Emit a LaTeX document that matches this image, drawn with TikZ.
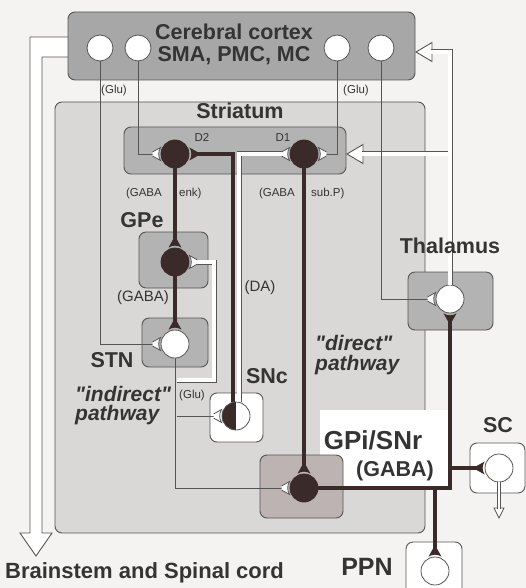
\documentclass[tikz,border=0pt]{standalone}
\usepackage{fontspec}
\setmainfont{Liberation Sans}
\usepackage{xcolor}
\usetikzlibrary{positioning}

\definecolor{paper}{HTML}{F4F3F1}
\definecolor{bggray}{HTML}{D9D8D6}
\definecolor{ctxgray}{HTML}{A7A7A7}
\definecolor{boxgray}{HTML}{B3B3B3}
\definecolor{gpigray}{HTML}{BCB3B2}
\definecolor{neuro}{HTML}{3A2A2A}
\definecolor{edgegray}{HTML}{555555}
\definecolor{ink}{HTML}{343434}

\begin{document}
\begin{tikzpicture}[x=1pt, y=-1pt,
  region/.style={draw=edgegray, line width=0.9pt, rounded corners=7pt, inner sep=0pt},
  neuron/.style={circle, draw=edgegray, line width=0.8pt, fill=white, minimum size=28pt, inner sep=0pt},
  darkneuron/.style={neuron, draw=neuro, fill=neuro},
  halfneuron/.style={neuron, path picture={\fill[neuro] (path picture bounding box.north west) rectangle (path picture bounding box.south);}},
  fiber/.style={draw=edgegray, double=white, double distance=3.2pt, line width=0.9pt},
  thinfiber/.style={draw=edgegray, double=white, double distance=1.8pt, line width=0.7pt},
  axon/.style={draw=neuro, line width=4pt},
  title/.style={font=\bfseries\fontsize{21.5}{24}\selectfont, text=ink, inner sep=0pt},
  route/.style={font=\bfseries\itshape\fontsize{21}{24}\selectfont, text=ink, inner sep=0pt, anchor=base west},
  tag/.style={font=\fontsize{11.5}{13}\selectfont, text=ink, inner sep=0pt},
  midtag/.style={font=\fontsize{15}{17}\selectfont, text=ink, inner sep=0pt},
  pics/excite/.style={code={
    \fill[white] (-8,-2.05) -- (0,-6.5) .. controls (-2.6,-2) and (-2.6,2) .. (0,6.5) -- (-8,2.05) -- cycle;
    \draw[edgegray, line width=0.8pt] (-8,-2.05) -- (0,-6.5) .. controls (-2.6,-2) and (-2.6,2) .. (0,6.5) -- (-8,2.05);}},
  pics/inhibit/.style={code={
    \fill[neuro] (-8,-2) -- (0,-6.5) .. controls (-2.6,-2) and (-2.6,2) .. (0,6.5) -- (-8,2) -- cycle;}},
  pics/openhead/.style={code={
    \draw[edgegray, line width=0.9pt, fill=white] (0,0) -- (-16,-9.5) -- (-16,9.5) -- cycle;}},
  pics/tinyhead/.style={code={
    \draw[edgegray, line width=0.7pt, fill=white] (0,0) -- (-10,-5) -- (-10,5) -- cycle;}}
]
\useasboundingbox (0,0) rectangle (526,588);
\clip (0,0) rectangle (526,588);
\fill[paper] (0,0) rectangle (526,588);

% descending output to brainstem
\draw[edgegray, line width=0.9pt, fill=white] (68,37) -- (30,37) -- (30,533) -- (20,533) -- (36,556)
  -- (52,533) -- (42,533) -- (42,57) -- (68,57);

% regions
\node[region, fill=ctxgray, minimum width=347pt, minimum height=68pt] (Ctx) at (241.5,46) {};
\node[region, fill=bggray, minimum width=370pt, minimum height=431pt] (BG) at (240,317.5) {};
\fill[white] (320,410) rectangle (449,487);
\node[region, fill=boxgray, minimum width=222pt, minimum height=47pt] (Str) at (235,150.5) {};
\node[region, fill=boxgray, minimum width=69pt, minimum height=56pt] (GPe) at (173.5,260) {};
\node[region, fill=boxgray, minimum width=66pt, minimum height=49pt] (STN) at (175,342.5) {};
\node[region, fill=white, minimum width=53pt, minimum height=49pt] (SNc) at (236.5,417.5) {};
\node[region, fill=gpigray, minimum width=83pt, minimum height=63pt] (GPi) at (301.5,486.5) {};
\node[region, fill=boxgray, minimum width=85pt, minimum height=58pt] (Thal) at (450.5,301) {};
\node[region, fill=white, minimum width=55pt, minimum height=50pt] (SC) at (497.5,468) {};
\node[region, fill=white, minimum width=56pt, minimum height=60pt] (PPN) at (434,572) {};

% neurons
\node[neuron, minimum size=26pt] (cA) at (100,48) {};
\node[neuron, minimum size=26pt] (cB) at (138,48) {};
\node[neuron, minimum size=26pt] (cC) at (337,48) {};
\node[neuron, minimum size=26pt] (cD) at (381,48) {};
\node[darkneuron] (D2) at (175,154) {};
\node[darkneuron] (D1) at (304,154) {};
\node[darkneuron] (GPeN) at (175,262) {};
\node[neuron] (STNN) at (175,344) {};
\node[halfneuron] (SNcN) at (236,416) {};
\node[darkneuron] (GPiN) at (304,488) {};
\node[neuron] (ThalN) at (450,299) {};
\node[neuron] (SCN) at (499,468) {};
\node[neuron] (PPNN) at (435,571) {};

\coordinate (ctxin) at (416,52);
\coordinate (strin) at (347,154);
\coordinate (thfork) at (448.4,154);
\coordinate (stnfork) at (176.6,380);
\coordinate (stnloop) at (214,380);
\coordinate (sncfork) at (176.6,416);
\coordinate (scfork) at (450,468);
\coordinate (ppnfork) at (435,488);
\coordinate (scdown) at (499,518);

% thalamic feedback
\pic[rotate=180] at (ctxin) {openhead};
\pic[rotate=180] at (strin) {openhead};
\draw[fiber, shorten >=15pt] (ThalN) |- (ctxin);
\draw[fiber, shorten >=15pt] (thfork) -- (strin);

% glutamatergic fibers
\path[fiber, shorten >=7.6pt]
  (cA) edge[to path={|- (\tikztotarget)}] (STNN.west)
  (cB) edge[to path={|- (\tikztotarget)}] (D2.west)
  (cC) edge[to path={|- (\tikztotarget)}] (D1.east)
  (cD) edge[to path={|- (\tikztotarget)}] (ThalN.west)
  (STNN) edge[to path={|- (\tikztotarget)}] (GPiN.west)
  (sncfork) edge (SNcN.west);
\draw[fiber, shorten >=7.6pt] (stnfork) -- (stnloop) |- (GPeN.east);
\draw[fiber, shorten >=7.6pt] ([xshift=3pt]SNcN.north) |- (D1.west);

% inhibitory (and DA) axons
\draw[axon, shorten >=7.6pt] ([xshift=-3pt]SNcN.north) |- (D2.east);
\draw[axon, shorten >=7.6pt] (GPiN) -| (ThalN.south);
\path[axon, shorten >=7.6pt]
  (D2) edge (GPeN.north)
  (D1) edge (GPiN.north)
  (GPeN) edge (STNN.north)
  (scfork) edge (SCN.west)
  (ppnfork) edge (PPNN.north);

\pic[rotate=-90] at (scdown) {tinyhead};
\draw[thinfiber, shorten >=9.5pt] (SCN) -- (scdown);

% synapses
\pic at (D2.west) {excite};
\pic[rotate=180] at (D2.east) {inhibit};
\pic at (D1.west) {excite};
\pic[rotate=180] at (D1.east) {excite};
\pic[rotate=-90] at (GPeN.north) {inhibit};
\pic[rotate=180] at (GPeN.east) {excite};
\pic[rotate=-90] at (STNN.north) {inhibit};
\pic at (STNN.west) {excite};
\pic at (SNcN.west) {excite};
\pic[rotate=-90] at (GPiN.north) {inhibit};
\pic at (GPiN.west) {excite};
\pic at (ThalN.west) {excite};
\pic[rotate=90] at (ThalN.south) {inhibit};
\pic at (SCN.west) {inhibit};
\pic[rotate=-90] at (PPNN.north) {inhibit};

% labels
\node[title, anchor=base] (ctxT) at (234,40) {Cerebral cortex};
\node[title, anchor=base] (ctxS) at (234,62) {SMA, PMC, MC};
\node[tag] (gluL) at (114,91) {(Glu)};
\node[tag] (gluR) at (356,91) {(Glu)};
\node[title, anchor=base] (strT) at (240,119) {Striatum};
\node[tag, anchor=base] (d2T) at (202,142) {D2};
\node[tag, anchor=base] (d1T) at (283,142) {D1};
\node[tag, anchor=east] (enkL) at (162,194) {(GABA};
\node[tag, anchor=west] (enkR) at (179,194) {enk)};
\node[tag, anchor=east] (subL) at (295,194) {(GABA};
\node[tag, anchor=west] (subR) at (311,194) {sub.P)};
\node[title, anchor=base] (gpeT) at (142,227) {GPe};
\node[midtag] (gabaT) at (143,298) {(GABA)};
\node[midtag] (daT) at (260,288) {(DA)};
\node[title, anchor=base] (stnT) at (112,367) {STN};
\node[route] (indA) at (75,401) {\textquotedbl indirect\textquotedbl};
\node[route] (indB) at (75,420) {pathway};
\node[tag] (gluS) at (192,396) {(Glu)};
\node[title, anchor=base] (sncT) at (267,383) {SNc};
\node[route] (dirA) at (315,350) {\textquotedbl direct\textquotedbl};
\node[route] (dirB) at (315,370) {pathway};
\node[title, anchor=base] (thT) at (450,253) {Thalamus};
\node[title, font=\bfseries\fontsize{26}{28}\selectfont] (gpiT) at (373,440) {GPi/SNr};
\node[title] (gpigT) at (395,471) {(GABA)};
\node[title, anchor=base] (scT) at (498,432) {SC};
\node[title, font=\bfseries\fontsize{25}{27}\selectfont] (ppnT) at (367,567) {PPN};
\node[title, font=\bfseries\fontsize{22}{24}\selectfont, anchor=base west] (bsT) at (5,578) {Brainstem and Spinal cord};
\end{tikzpicture}
\end{document}
